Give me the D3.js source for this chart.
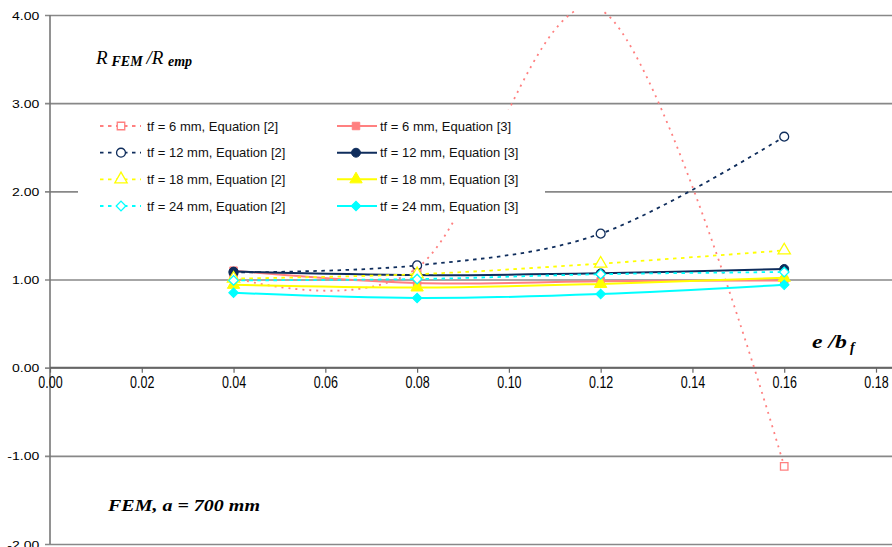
<!DOCTYPE html>
<html>
<head>
<meta charset="utf-8">
<script src="https://cdn.jsdelivr.net/npm/d3@7"></script>
<style>
  body { margin: 0; background: #fff; }
  svg { display: block; }
</style>
</head>
<body>
<svg id="chart" width="892" height="547"></svg>
<script>
// e / b_f values at which the ratio was evaluated
const eOverBf = [0.04, 0.08, 0.12, 0.16];

// R_FEM / R_emp, Equation [2]
const eq2Tf6  = [1.02, 1.13, 4.06, -1.12];
const eq2Tf12 = [1.08, 1.16, 1.52, 2.62];
const eq2Tf18 = [1.01, 1.06, 1.18, 1.33];
const eq2Tf24 = [0.99, 1.005, 1.06, 1.085];

// R_FEM / R_emp, Equation [3]
const eq3Tf6  = [1.10, 0.96, 0.98, 0.99];
const eq3Tf12 = [1.09, 1.05, 1.07, 1.12];
const eq3Tf18 = [0.94, 0.91, 0.95, 1.02];
const eq3Tf24 = [0.85, 0.79, 0.835, 0.94];

const seriesLabels = [
  "tf = 6 mm, Equation [2]",  "tf = 6 mm, Equation [3]",
  "tf = 12 mm, Equation [2]", "tf = 12 mm, Equation [3]",
  "tf = 18 mm, Equation [2]", "tf = 18 mm, Equation [3]",
  "tf = 24 mm, Equation [2]", "tf = 24 mm, Equation [3]"
];
const seriesValues = [eq2Tf6, eq3Tf6, eq2Tf12, eq3Tf12, eq2Tf18, eq3Tf18, eq2Tf24, eq3Tf24];

const xTicks = [0, 0.02, 0.04, 0.06, 0.08, 0.10, 0.12, 0.14, 0.16, 0.18];
const yTicks = [-2, -1, 0, 1, 2, 3, 4];

// ---- styling ----
const thickColors = ["#ff8080", "#0f2d5c", "#ffff00", "#00ffff"];
const markerShapes = ["square", "circle", "triangle", "diamond"];

const series = seriesValues.map((values, i) => {
  const group = Math.floor(i / 2);
  const eq2 = i % 2 === 0;
  return {
    label: seriesLabels[i],
    values,
    color: thickColors[group],
    shape: markerShapes[group],
    dashed: eq2,
    hollow: eq2
  };
});

const svg = d3.select("#chart");
const plotLeft = 50, plotRight = 876, plotTop = 15, plotBottom = 544;
const gridRight = 892;

const x = d3.scaleLinear().domain([0, 0.18]).range([plotLeft, plotRight]);
const y = d3.scaleLinear().domain([-2, 4]).range([plotBottom, plotTop]);

const fmt = d3.formatLocale({ decimal: ".", thousands: ",", grouping: [3], currency: ["", ""], minus: "-" }).format(".2f");

const font = "'Liberation Sans', Arial, sans-serif";
const serif = "'Liberation Serif', 'Times New Roman', serif";

// ---- horizontal gridlines and y labels ----
const yAxis = svg.append("g")
  .attr("transform", `translate(${plotLeft},0)`)
  .call(d3.axisLeft(y).tickValues(yTicks).tickFormat(fmt)
    .tickSizeInner(-(gridRight - plotLeft)).tickSizeOuter(0));
yAxis.select(".domain").remove();
yAxis.selectAll(".tick line")
  .attr("x1", -5)
  .attr("stroke", "#888")
  .attr("stroke-width", 1.6);
yAxis.selectAll(".tick text")
  .attr("font-family", font)
  .attr("font-size", 11.5)
  .attr("fill", "#000")
  .attr("x", -8.8)
  .attr("dy", "0.36em")
  .attr("transform", "scale(1.22,1)");

// vertical axis line
svg.append("line")
  .attr("x1", plotLeft).attr("x2", plotLeft)
  .attr("y1", y(4)).attr("y2", y(-2))
  .attr("stroke", "#777").attr("stroke-width", 1.6);

// ---- x axis along zero ----
const xAxis = svg.append("g")
  .attr("transform", `translate(0,${y(0)})`)
  .call(d3.axisBottom(x).tickValues(xTicks).tickFormat(fmt)
    .tickSizeInner(5).tickSizeOuter(0));
xAxis.select(".domain")
  .attr("d", `M${plotLeft},0H${gridRight}`)
  .attr("stroke", "#666").attr("stroke-width", 1.6);
xAxis.selectAll(".tick line").attr("stroke", "#666").attr("stroke-width", 1.2);
xAxis.selectAll(".tick text")
  .attr("font-family", font)
  .attr("font-size", 12.5)
  .attr("fill", "#000")
  .attr("y", 14.8)
  .attr("dy", null)
  .attr("transform", "scale(1,1.35)");

// ---- series ----
const defs = svg.append("defs");
defs.append("clipPath").attr("id", "lineClip")
  .append("rect")
  .attr("x", plotLeft).attr("y", 11)
  .attr("width", gridRight - plotLeft).attr("height", plotBottom - 11);
defs.append("clipPath").attr("id", "markerClip")
  .append("rect")
  .attr("x", plotLeft).attr("y", plotTop)
  .attr("width", gridRight - plotLeft).attr("height", plotBottom - plotTop);

const line = d3.line()
  .x((d, i) => x(eOverBf[i]))
  .y(d => y(d))
  .curve(d3.curveCatmullRom.alpha(0));

function symbolPath(shape) {
  if (shape === "square") return d3.symbol(d3.symbolSquare, 56)();
  if (shape === "circle") return d3.symbol(d3.symbolCircle, 62)();
  if (shape === "triangle") return d3.symbol(d3.symbolTriangle, 66)();
  return d3.symbol(d3.symbolSquare, 46)();
}

function drawMarker(g, s, cx, cy) {
  g.append("path")
    .attr("d", symbolPath(s.shape))
    .attr("transform", `translate(${cx},${cy})` + (s.shape === "diamond" ? " rotate(45)" : ""))
    .attr("fill", s.hollow ? "#fff" : s.color)
    .attr("stroke", s.color)
    .attr("stroke-width", s.hollow ? 1.3 : 1);
}

series.forEach(s => {
  svg.append("path")
    .attr("clip-path", "url(#lineClip)")
    .datum(s.values)
    .attr("d", line)
    .attr("fill", "none")
    .attr("stroke", s.color)
    .attr("stroke-width", s.dashed ? 1.8 : 2)
    .attr("stroke-dasharray", s.dashed ? (s.shape === "square" ? "2,5" : "3.5,4.5") : null);
  const mg = svg.append("g").attr("clip-path", "url(#markerClip)");
  s.values.forEach((v, i) => drawMarker(mg, s, x(eOverBf[i]), y(v)));
});

// ---- legend ----
const legend = svg.append("g");
legend.append("rect")
  .attr("x", 78).attr("y", 110).attr("width", 467).attr("height", 112)
  .attr("fill", "#fff");

const rowY = [126, 152.7, 179.3, 206];
const colX = [{ l0: 100, l1: 141, m: 121, t: 147 }, { l0: 337, l1: 377, m: 356, t: 380 }];

series.forEach((s, i) => {
  const r = Math.floor(i / 2), c = colX[i % 2], ry = rowY[r];
  legend.append("line")
    .attr("x1", c.l0).attr("x2", c.l1).attr("y1", ry).attr("y2", ry)
    .attr("stroke", s.color)
    .attr("stroke-width", s.dashed ? 1.8 : 2)
    .attr("stroke-dasharray", s.dashed ? "3.5,4.5" : null);
  drawMarker(legend, s, c.m, ry);
  legend.append("text")
    .attr("x", c.t).attr("y", ry + 4.6)
    .attr("font-family", font).attr("font-size", 13)
    .attr("fill", "#111")
    .text(s.label);
});

// ---- titles ----
const yTitle = svg.append("text")
  .attr("font-family", serif).attr("font-style", "italic").attr("fill", "#000");
yTitle.append("tspan").attr("x", 96).attr("y", 63.5).attr("font-size", 19).text("R");
yTitle.append("tspan").attr("x", 111.5).attr("y", 66).attr("font-size", 14).attr("font-weight", "bold").text("FEM");
yTitle.append("tspan").attr("x", 146.5).attr("y", 63.5).attr("font-size", 19).text("/R");
yTitle.append("tspan").attr("x", 168).attr("y", 66).attr("font-size", 14).attr("font-weight", "bold").text("emp");

const xTitle = svg.append("text")
  .attr("font-family", serif).attr("font-style", "italic").attr("font-weight", "bold").attr("fill", "#000");
xTitle.append("tspan").attr("x", 812).attr("y", 348).attr("font-size", 19)
  .attr("textLength", 35).attr("lengthAdjust", "spacingAndGlyphs").text("e /b");
xTitle.append("tspan").attr("x", 850).attr("y", 352).attr("font-size", 14).text("f");

svg.append("text")
  .attr("x", 108).attr("y", 511)
  .attr("font-family", serif).attr("font-style", "italic").attr("font-weight", "bold")
  .attr("font-size", 17.5).attr("fill", "#000")
  .attr("textLength", 152).attr("lengthAdjust", "spacingAndGlyphs")
  .text("FEM, a = 700 mm");
</script>
</body>
</html>
